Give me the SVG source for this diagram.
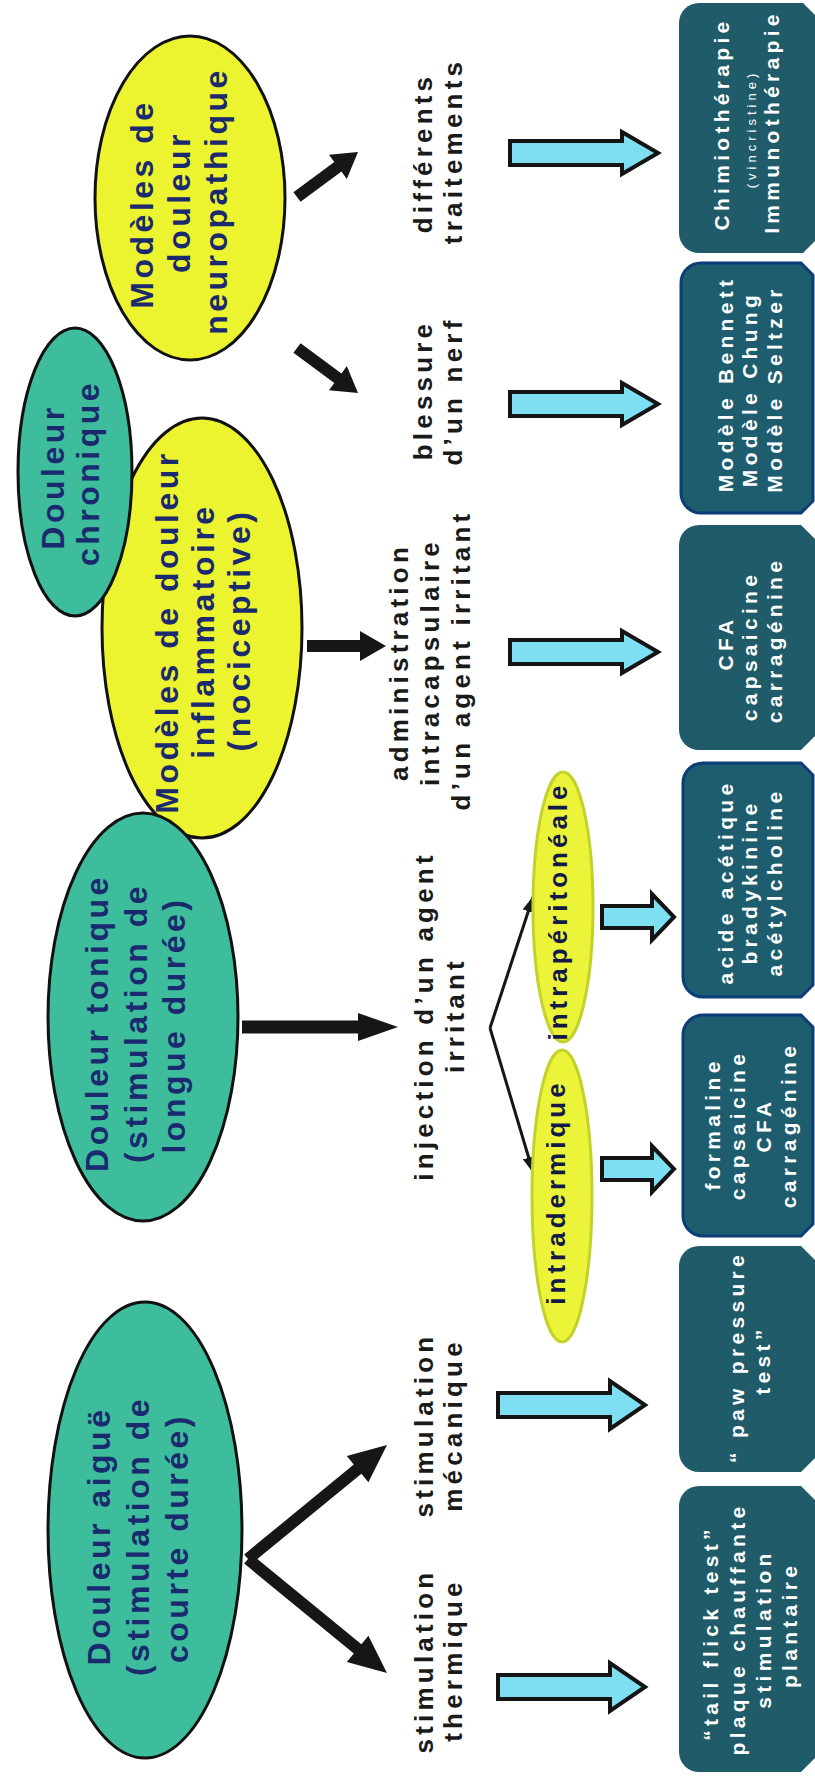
<svg xmlns="http://www.w3.org/2000/svg" width="815" height="1781" viewBox="0 0 815 1781">
  <defs>
    <style>
      .t { font-family: "Liberation Sans", Arial, sans-serif; font-weight: bold; text-anchor: middle; }
      .navy { fill: #1b2a6e; font-size: 32px; letter-spacing: 3.5px; }
      .small-navy { fill: #141a48; font-size: 26px; letter-spacing: 4px; }
      .blk { fill: #1a1a1a; font-size: 26px; letter-spacing: 4.2px; }
      .wht { fill: #ffffff; font-size: 21px; letter-spacing: 4.3px; }
      .wht-sm { fill: #ffffff; font-size: 13px; font-weight: normal; letter-spacing: 4px; }
      .teal { fill: #3dbd9b; stroke: #111111; stroke-width: 3; }
      .yellow { fill: #ebf42e; stroke: #111111; stroke-width: 3; }
      .pale { fill: #ecf43a; stroke: #c3d22a; stroke-width: 3; }
      .box { fill: #1f5b69; }
      .box-edge { fill: #1e5d6e; stroke: #0b3d78; stroke-width: 3; }
      .cyan { fill: #7fdff2; stroke: #141414; stroke-width: 4; stroke-linejoin: miter; }
      .black { fill: #161616; }
      .thin { stroke: #161616; stroke-width: 3; fill: none; marker-end: url(#head); }
    </style>
    <marker id="head" markerUnits="userSpaceOnUse" viewBox="0 0 16 12" refX="15" refY="6" markerWidth="16" markerHeight="12" orient="auto">
      <path d="M0,0 L16,6 L0,12 z" fill="#161616"/>
    </marker>
  </defs>

  <rect width="815" height="1781" fill="#ffffff"/>

  <!-- connectors -->
  <g id="connectors">
    <!-- neuropathic model branches -->
    <polygon class="black" points="293.4,192.2 334.3,162 329,154.7 358,152 346.8,178.9 341.5,171.6 300.6,201.8"/>
    <polygon class="black" points="293.4,352.8 334.3,383 329,390.3 358,393 346.8,366.1 341.5,373.4 300.6,343.2"/>
    <!-- inflammatory model -> administration -->
    <polygon class="black" points="307,640 360,640 360,631 386,646 360,661 360,652 307,652"/>
    <!-- tonic pain -> injection -->
    <polygon class="black" points="242,1020.5 358,1020.5 358,1013 398,1027 358,1041 358,1033.5 242,1033.5"/>
    <!-- acute pain split -->
    <polygon class="black" points="244.2,1554.4 353.8,1464.5 346.8,1455.9 387,1445 368.4,1482.2 361.4,1473.7 251.8,1563.6"/>
    <polygon class="black" points="244.2,1563.6 353.8,1653.5 346.8,1662.1 387,1673 368.4,1635.8 361.4,1644.3 251.8,1554.4"/>
    <!-- injection routes -->
    <polyline class="thin" points="490,1028 533,897"/>
    <polyline class="thin" points="490,1028 533,1172"/>
    <!-- block arrows towards the model boxes -->
    <polygon class="cyan" points="510,141 622,141 622,132 658,153 622,174 622,165 510,165"/>
    <polygon class="cyan" points="510,392 622,392 622,383 658,404 622,425 622,416 510,416"/>
    <polygon class="cyan" points="510,640 622,640 622,631 658,652 622,673 622,664 510,664"/>
    <polygon class="cyan" points="602,906 652,906 652,894 674,917 652,940 652,928 602,928"/>
    <polygon class="cyan" points="602,1158 652,1158 652,1146 674,1169 652,1192 652,1180 602,1180"/>
    <polygon class="cyan" points="498,1393 610,1393 610,1381 645,1405 610,1429 610,1417 498,1417"/>
    <polygon class="cyan" points="498,1675 610,1675 610,1663 645,1687 610,1711 610,1699 498,1699"/>
  </g>

  <!-- pain category ellipses -->
  <g id="neuropathique">
    <ellipse class="yellow" cx="190" cy="198" rx="95" ry="162"/>
    <text class="t navy" transform="translate(153,204) rotate(-90)">Modèles de</text>
    <text class="t navy" transform="translate(190,202) rotate(-90)">douleur</text>
    <text class="t navy" transform="translate(227,201) rotate(-90)">neuropathique</text>
  </g>
  <g id="inflammatoire">
    <ellipse class="yellow" cx="202" cy="628" rx="100" ry="210"/>
    <text class="t navy" transform="translate(178,632) rotate(-90)">Modèles de douleur</text>
    <text class="t navy" transform="translate(214,631) rotate(-90)">inflammatoire</text>
    <text class="t navy" transform="translate(250,630) rotate(-90)">(nociceptive)</text>
  </g>
  <g id="chronique">
    <ellipse class="teal" cx="75" cy="472" rx="57" ry="144"/>
    <text class="t navy" transform="translate(64,477) rotate(-90)">Douleur</text>
    <text class="t navy" transform="translate(99,473) rotate(-90)">chronique</text>
  </g>
  <g id="tonique">
    <ellipse class="teal" cx="143" cy="1017" rx="95" ry="204"/>
    <text class="t navy" transform="translate(108,1023) rotate(-90)">Douleur tonique</text>
    <text class="t navy" transform="translate(147,1023) rotate(-90)">(stimulation de</text>
    <text class="t navy" transform="translate(185,1025) rotate(-90)">longue durée)</text>
  </g>
  <g id="aigue">
    <ellipse class="teal" cx="145" cy="1530" rx="97" ry="228"/>
    <text class="t navy" transform="translate(110,1536) rotate(-90)">Douleur aiguë</text>
    <text class="t navy" transform="translate(149,1536) rotate(-90)">(stimulation de</text>
    <text class="t navy" transform="translate(188,1538) rotate(-90)">courte durée)</text>
  </g>

  <!-- stimulation labels -->
  <g id="traitements">
    <text class="t blk" transform="translate(432,153) rotate(-90)">différents</text>
    <text class="t blk" transform="translate(462,151) rotate(-90)">traitements</text>
  </g>
  <g id="blessure">
    <text class="t blk" transform="translate(432,390) rotate(-90)">blessure</text>
    <text class="t blk" transform="translate(462,391) rotate(-90)">d’un nerf</text>
  </g>
  <g id="administration">
    <text class="t blk" transform="translate(408,662) rotate(-90)">administration</text>
    <text class="t blk" transform="translate(439,662) rotate(-90)">intracapsulaire</text>
    <text class="t blk" transform="translate(470,660) rotate(-90)">d’un agent irritant</text>
  </g>
  <g id="injection">
    <text class="t blk" transform="translate(433,1016) rotate(-90)">injection d’un agent</text>
    <text class="t blk" transform="translate(464,1015) rotate(-90)">irritant</text>
  </g>
  <g id="mecanique">
    <text class="t blk" transform="translate(433,1425) rotate(-90)">stimulation</text>
    <text class="t blk" transform="translate(462,1425) rotate(-90)">mécanique</text>
  </g>
  <g id="thermique">
    <text class="t blk" transform="translate(433,1661) rotate(-90)">stimulation</text>
    <text class="t blk" transform="translate(462,1660) rotate(-90)">thermique</text>
  </g>

  <!-- injection routes -->
  <g id="intraperitoneale">
    <ellipse class="pale" cx="563" cy="907" rx="30" ry="135"/>
    <text class="t small-navy" transform="translate(567,911) rotate(-90)">intrapéritonéale</text>
  </g>
  <g id="intradermique">
    <ellipse class="pale" cx="562" cy="1196" rx="30" ry="146"/>
    <text class="t small-navy" transform="translate(565,1192) rotate(-90)">intradermique</text>
  </g>

  <!-- model boxes: rounded on the left, snipped on the right -->
  <g id="box-chimio">
    <path class="box" d="M679,23 A20,20 0 0 1 699,3 L803,3 L815,15 L815,241 L803,253 L699,253 A20,20 0 0 1 679,233 Z"/>
    <text class="t wht" transform="translate(729,124) rotate(-90)">Chimiothérapie</text>
    <text class="t wht-sm" transform="translate(756,129) rotate(-90)">(vincristine)</text>
    <text class="t wht" transform="translate(779,122) rotate(-90)">Immunothérapie</text>
  </g>
  <g id="box-nerf">
    <path class="box-edge" d="M681,283 A20,20 0 0 1 701,263 L801,263 L813,275 L813,501 L801,513 L701,513 A20,20 0 0 1 681,493 Z"/>
    <text class="t wht" transform="translate(733,384) rotate(-90)">Modèle Bennett</text>
    <text class="t wht" transform="translate(757,389) rotate(-90)">Modèle Chung</text>
    <text class="t wht" transform="translate(782,389) rotate(-90)">Modèle Seltzer</text>
  </g>
  <g id="box-intracapsulaire">
    <path class="box" d="M679,545 A20,20 0 0 1 699,525 L801,525 L815,539 L815,736 L801,750 L699,750 A20,20 0 0 1 679,730 Z"/>
    <text class="t wht" transform="translate(733,643) rotate(-90)">CFA</text>
    <text class="t wht" transform="translate(757,646) rotate(-90)">capsaicine</text>
    <text class="t wht" transform="translate(782,640) rotate(-90)">carragénine</text>
  </g>
  <g id="box-peritoneale">
    <path class="box-edge" d="M683,783 A20,20 0 0 1 703,763 L801,763 L813,775 L813,985 L801,997 L703,997 A20,20 0 0 1 683,977 Z"/>
    <text class="t wht" transform="translate(733,882) rotate(-90)">acide acétique</text>
    <text class="t wht" transform="translate(757,882) rotate(-90)">bradykinine</text>
    <text class="t wht" transform="translate(782,882) rotate(-90)">acétylcholine</text>
  </g>
  <g id="box-dermique">
    <path class="box-edge" d="M683,1035 A20,20 0 0 1 703,1015 L801,1015 L813,1027 L813,1224 L801,1236 L703,1236 A20,20 0 0 1 683,1216 Z"/>
    <text class="t wht" transform="translate(720,1124) rotate(-90)">formaline</text>
    <text class="t wht" transform="translate(745,1125) rotate(-90)">capsaicine</text>
    <text class="t wht" transform="translate(771,1125) rotate(-90)">CFA</text>
    <text class="t wht" transform="translate(796,1125) rotate(-90)">carragénine</text>
  </g>
  <g id="box-mecanique">
    <path class="box" d="M679,1266 A20,20 0 0 1 699,1246 L801,1246 L815,1260 L815,1458 L801,1472 L699,1472 A20,20 0 0 1 679,1452 Z"/>
    <text class="t wht" transform="translate(744,1357) rotate(-90)">“ paw pressure</text>
    <text class="t wht" transform="translate(770,1360) rotate(-90)">test”</text>
  </g>
  <g id="box-thermique">
    <path class="box" d="M679,1506 A20,20 0 0 1 699,1486 L801,1486 L815,1500 L815,1758 L801,1772 L699,1772 A20,20 0 0 1 679,1752 Z"/>
    <text class="t wht" transform="translate(718,1633) rotate(-90)">“tail flick test”</text>
    <text class="t wht" transform="translate(745,1629) rotate(-90)">plaque chauffante</text>
    <text class="t wht" transform="translate(771,1629) rotate(-90)">stimulation</text>
    <text class="t wht" transform="translate(797,1625) rotate(-90)">plantaire</text>
  </g>
</svg>
